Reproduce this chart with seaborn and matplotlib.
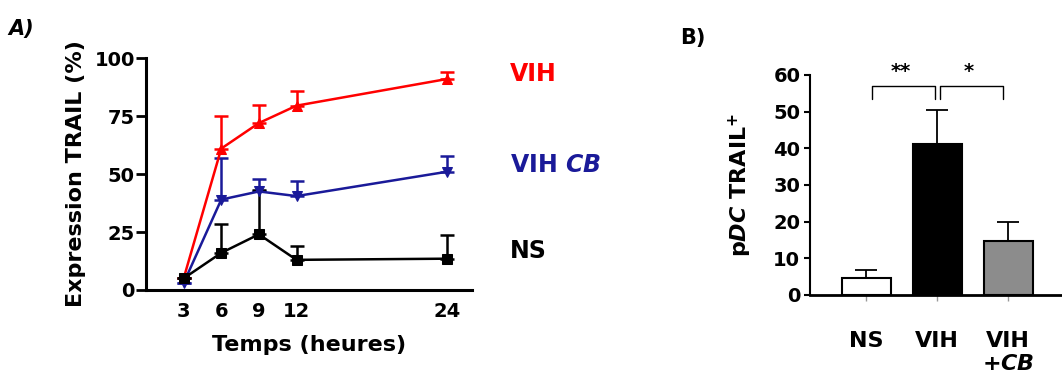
"""
TRAIL expression in pDC: time course (A) and bar summary (B).
"""

import numpy as np
import matplotlib
matplotlib.use("Agg")
import matplotlib.pyplot as plt
import seaborn as sns
import pandas as pd

# Panel A data
hours = [3, 6, 9, 12, 24]
vih = [5, 61, 72, 79.5, 91]
vih_err = [0, 14, 8, 6.5, 3]
vih_cb = [3, 39, 42.5, 40.5, 51]
vih_cb_err = [0, 18, 5.5, 6.5, 7]
ns = [5, 16, 24, 13, 13.5]
ns_err = [0, 12.5, 19, 6, 10]

# Panel B data
groups = ["NS", "VIH", "VIH+CB"]
pdc_trail = [4.5, 41.3, 14.7]
pdc_err = [2.2, 9.2, 5.3]

sns.set_theme(style="ticks")
plt.rcParams['font.family'] = ['DejaVu Sans']
plt.rcParams['font.weight'] = 'bold'
plt.rcParams['text.color'] = 'black'
plt.rcParams['axes.labelcolor'] = 'black'
plt.rcParams['axes.edgecolor'] = 'black'
plt.rcParams['xtick.color'] = 'black'
plt.rcParams['ytick.color'] = 'black'
plt.rcParams['mathtext.fontset'] = 'custom'
plt.rcParams['mathtext.rm'] = 'DejaVu Sans:bold'
plt.rcParams['mathtext.it'] = 'DejaVu Sans:italic:bold'
plt.rcParams['mathtext.bf'] = 'DejaVu Sans:bold'

fig = plt.figure(figsize=(10.62, 3.85), dpi=100)
ax1 = fig.add_axes([0.1375, 0.2468, 0.307, 0.6022])
ax2 = fig.add_axes([0.7627, 0.2338, 0.2373, 0.5714])

# ---- Panel A ----
series = [
    (vih, vih_err, "#ff0000", "^"),
    (vih_cb, vih_cb_err, "#1a1a99", "v"),
    (ns, ns_err, "#000000", "s"),
]
for vals, err, col, mk in series:
    df = pd.DataFrame({"h": hours, "v": vals})
    ax1.errorbar(hours, vals, yerr=[np.zeros(len(err)), err], fmt="none",
                 ecolor=col, elinewidth=1.8, capsize=5, capthick=1.8, zorder=2)
    sns.lineplot(data=df, x="h", y="v", ax=ax1, color=col, marker=mk,
                 markersize=7, markeredgecolor=col, linewidth=1.8, zorder=3)

ax1.set_xlim(0, 26)
ax1.set_ylim(0, 100)
ax1.set_xticks(hours)
ax1.set_yticks([0, 25, 50, 75, 100])
ax1.tick_params(axis="x", length=0, pad=9, labelsize=14)
ax1.tick_params(axis="y", length=7, width=2, pad=1, labelsize=14)
for lab in ax1.get_xticklabels() + ax1.get_yticklabels():
    lab.set_fontweight("bold")
sns.despine(ax=ax1)
for s in ["left", "bottom"]:
    ax1.spines[s].set_linewidth(2.2)
ax1.set_xlabel("Temps (heures)", fontsize=16, fontweight="bold", labelpad=10)
ax1.set_ylabel("Expression TRAIL (%)", fontsize=16, fontweight="bold", labelpad=6)

ax1.text(29.0, 93, "VIH", color="#ff0000", fontsize=17, fontweight="bold",
         va="center", clip_on=False)
ax1.text(29.0, 54, "VIH $\\mathit{CB}$", color="#1a1a99", fontsize=17,
         fontweight="bold", va="center", clip_on=False)
ax1.text(29.0, 17, "NS", color="black", fontsize=17, fontweight="bold",
         va="center", clip_on=False)
fig.text(0.008, 0.91, "A)", fontsize=15, fontweight="bold", fontstyle="italic")

# ---- Panel B ----
bdf = pd.DataFrame({"g": groups, "v": pdc_trail})
sns.barplot(data=bdf, x="g", y="v", ax=ax2, palette=["white", "black", "#8c8c8c"],
            hue="g", legend=False, width=0.69, edgecolor="black", linewidth=1.5,
            errorbar=None, zorder=2)
ax2.errorbar(range(len(groups)), pdc_trail, yerr=[np.zeros(3), pdc_err], fmt="none",
             ecolor="black", elinewidth=1.3, capsize=8, capthick=1.3, zorder=1)

ax2.set_xlim(-0.79, 2.76)
ax2.set_ylim(0, 60)
ax2.set_yticks(range(0, 61, 10))
ax2.set_xticks(range(3))
ax2.set_xticklabels(["NS", "VIH", "VIH\n+$\\mathit{CB}$"], fontsize=16,
                    fontweight="bold")
ax2.tick_params(axis="x", length=4, width=1, color="#999999", labelcolor="black",
                pad=22)
ax2.tick_params(axis="y", length=4, width=1.5, pad=3, labelsize=14)
for lab in ax2.get_yticklabels():
    lab.set_fontweight("bold")
sns.despine(ax=ax2)
ax2.spines["left"].set_linewidth(1.5)
ax2.spines["bottom"].set_linewidth(2)
ax2.set_xlabel("")
ax2.set_ylabel("p$\\mathit{DC}$ TRAIL$^{+}$", fontsize=16, fontweight="bold",
               labelpad=14)

# significance brackets
for (x0, x1, txt) in [(0.08, 0.97, "**"), (1.04, 1.93, "*")]:
    ax2.plot([x0, x0, x1, x1], [53.5, 57, 57, 53.5], color="black", lw=1,
             clip_on=False)
    ax2.text((x0 + x1) / 2 - 0.04, 61, txt, ha="center", va="center",
             fontsize=14, fontweight="bold", clip_on=False)

fig.text(0.64, 0.885, "B)", fontsize=15, fontweight="bold")

fig.savefig("out.png", dpi=100)
